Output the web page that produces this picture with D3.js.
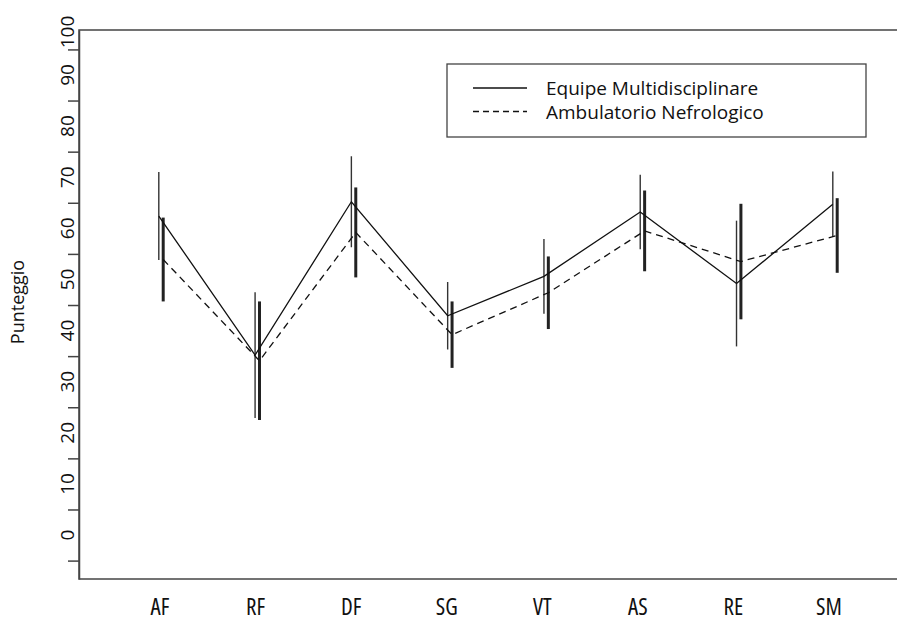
<!DOCTYPE html>
<html lang="it">
<head>
<meta charset="UTF-8">
<title>Punteggio</title>
<script src="https://cdn.jsdelivr.net/npm/d3@7"></script>
<style>
    body { margin: 0; background: #fff; }
    text { font-family: "Open Sans", "Liberation Sans", sans-serif; fill: #111; }
</style>
</head>
<body>
<script>
    // values (mean and sd per domain)
    var categories = ["AF", "RF", "DF", "SG", "VT", "AS", "RE", "SM"];
    var equipeMean = [62.4, 35.2, 65.2, 42.9, 50.6, 63.2, 49.2, 64.7];
    var equipeSD   = [8.6, 12.3, 8.9, 6.6, 7.3, 7.3, 12.3, 6.4];
    var ambMean    = [53.9, 34.1, 59.2, 39.2, 47.4, 59.5, 53.5, 58.6];
    var ambSD      = [8.2, 11.6, 8.8, 6.5, 7.1, 7.9, 11.3, 7.3];
    var yTickValues  = [-5, 5, 15, 25, 35, 45, 55, 65, 75, 85, 95];
    var yLabelValues = [0, 10, 20, 30, 40, 50, 60, 70, 80, 90, 100];
    var seriesNames  = ["Equipe Multidisciplinare", "Ambulatorio Nefrologico"];

    var width = 897, height = 621;
    var plotLeft = 79, plotTop = 30, plotBottom = 579;

    var svg = d3.select("body").append("svg")
        .attr("width", width)
        .attr("height", height);

    var x = d3.scalePoint()
        .domain(categories)
        .range([161, 835]);

    // the category labels sit on a slightly tighter spacing than the bars
    var xLab = d3.scalePoint()
        .domain(categories)
        .range([160, 829]);

    var y = d3.scaleLinear()
        .domain([-8.6, 98.8])
        .range([plotBottom, plotTop]);

    // frame (runs off the right edge like the original)
    svg.append("rect")
        .attr("x", plotLeft)
        .attr("y", plotTop)
        .attr("width", 900)
        .attr("height", plotBottom - plotTop)
        .attr("fill", "none")
        .attr("stroke", "#444")
        .attr("stroke-width", 1.5);

    var yAxis = d3.axisLeft(y)
        .tickValues(yTickValues)
        .tickFormat("")
        .tickSize(11)
        .tickSizeOuter(0);

    var gy = svg.append("g")
        .attr("transform", "translate(" + plotLeft + ",0)")
        .call(yAxis);
    gy.selectAll("path, line").attr("stroke", "#444").attr("stroke-width", 1.5);

    svg.selectAll(".ylab")
        .data(yLabelValues)
        .enter()
        .append("text")
        .attr("class", "ylab")
        .attr("transform", function (d) {
            return "translate(74," + Math.max(y(d), plotTop + 2) + ") rotate(-90)";
        })
        .attr("text-anchor", "middle")
        .style("font-size", "19px")
        .text(function (d) { return d; });

    svg.append("text")
        .attr("transform", "translate(24,302) rotate(-90)")
        .attr("text-anchor", "middle")
        .style("font-size", "18px")
        .text("Punteggio");

    svg.selectAll(".xlab")
        .data(categories)
        .enter()
        .append("text")
        .attr("class", "xlab")
        .attr("x", function (d) { return xLab(d); })
        .attr("y", 615)
        .attr("text-anchor", "middle")
        .style("font-size", "23px")
        .style("font-stretch", "condensed")
        .text(function (d) { return d; });

    var equipe = categories.map(function (c, i) {
        return {c: c, m: equipeMean[i], s: equipeSD[i]};
    });
    var amb = categories.map(function (c, i) {
        return {c: c, m: ambMean[i], s: ambSD[i]};
    });

    var off = 2.2;

    // error bars: thin for equipe, thick for ambulatorio
    svg.selectAll(".barE")
        .data(equipe)
        .enter()
        .append("line")
        .attr("x1", function (d) { return x(d.c) - off; })
        .attr("x2", function (d) { return x(d.c) - off; })
        .attr("y1", function (d) { return y(d.m + d.s); })
        .attr("y2", function (d) { return y(d.m - d.s); })
        .attr("stroke", "#333")
        .attr("stroke-width", 1.4);

    svg.selectAll(".barA")
        .data(amb)
        .enter()
        .append("line")
        .attr("x1", function (d) { return x(d.c) + off; })
        .attr("x2", function (d) { return x(d.c) + off; })
        .attr("y1", function (d) { return y(d.m + d.s); })
        .attr("y2", function (d) { return y(d.m - d.s); })
        .attr("stroke", "#222")
        .attr("stroke-width", 3);

    var lineE = d3.line()
        .x(function (d) { return x(d.c) - off; })
        .y(function (d) { return y(d.m); });
    var lineA = d3.line()
        .x(function (d) { return x(d.c) + off; })
        .y(function (d) { return y(d.m); });

    svg.append("path")
        .attr("d", lineE(equipe))
        .attr("fill", "none")
        .attr("stroke", "#111")
        .attr("stroke-width", 1.3);

    svg.append("path")
        .attr("d", lineA(amb))
        .attr("fill", "none")
        .attr("stroke", "#111")
        .attr("stroke-width", 1.3)
        .attr("stroke-dasharray", "7,5");

    // legend
    var lg = svg.append("g");
    lg.append("rect")
        .attr("x", 447)
        .attr("y", 64)
        .attr("width", 419)
        .attr("height", 73)
        .attr("fill", "#fff")
        .attr("stroke", "#444")
        .attr("stroke-width", 1.3);

    lg.selectAll(".lgl")
        .data(seriesNames)
        .enter()
        .append("line")
        .attr("x1", 473)
        .attr("x2", 527)
        .attr("y1", function (d, i) { return 88 + i * 23.5; })
        .attr("y2", function (d, i) { return 88 + i * 23.5; })
        .attr("stroke", "#111")
        .attr("stroke-width", 1.3)
        .attr("stroke-dasharray", function (d, i) { return i ? "6,4" : null; });

    lg.selectAll(".lgt")
        .data(seriesNames)
        .enter()
        .append("text")
        .attr("x", 546)
        .attr("y", function (d, i) { return 95 + i * 23.5; })
        .style("font-size", "19px")
        .text(function (d) { return d; });
</script>
</body>
</html>
